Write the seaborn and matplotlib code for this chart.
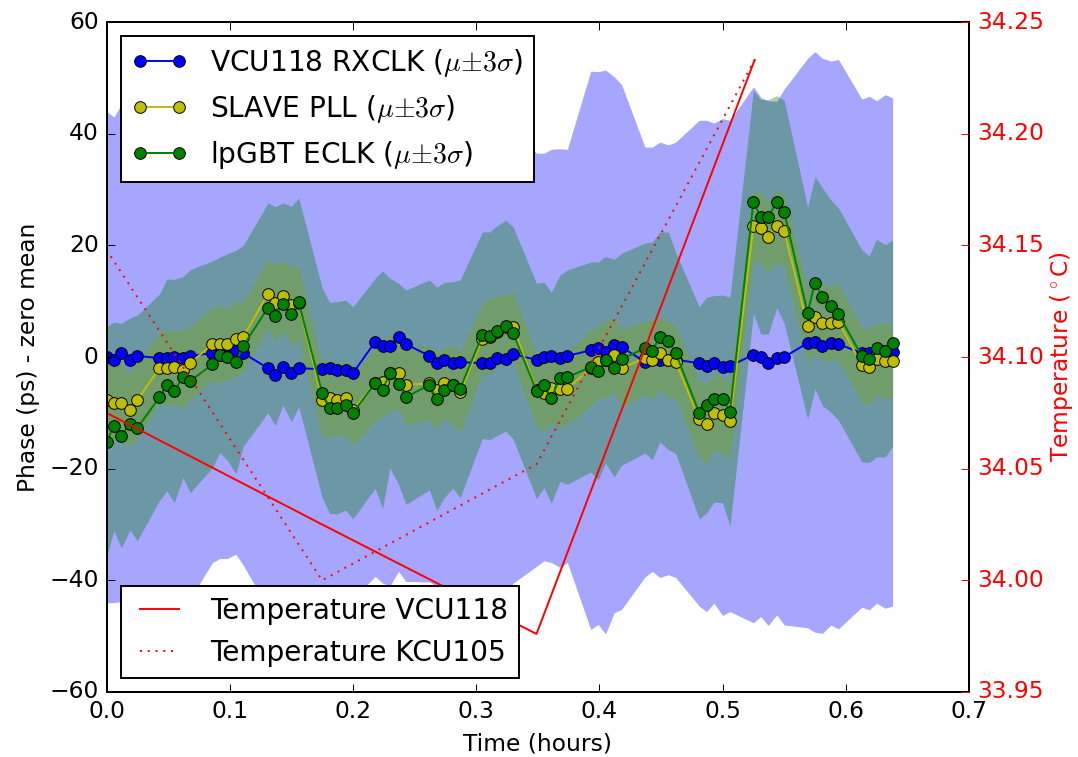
import matplotlib
matplotlib.use("Agg")
import matplotlib.pyplot as plt
from matplotlib.ticker import FormatStrFormatter, MultipleLocator
import numpy as np
import seaborn as sns

# ---------------- data ----------------
times = [
    0.000, 0.006, 0.012, 0.019, 0.025,
    0.043, 0.049, 0.055, 0.062, 0.068,
    0.086, 0.092, 0.098, 0.105, 0.111,
    0.131, 0.137, 0.143, 0.150, 0.156,
    0.175, 0.181, 0.187, 0.194, 0.200,
    0.218, 0.224, 0.230, 0.237, 0.243,
    0.262, 0.268, 0.274, 0.281, 0.287,
    0.305, 0.311, 0.317, 0.324, 0.330,
    0.349, 0.355, 0.361, 0.368, 0.374,
    0.393, 0.399, 0.405, 0.412, 0.418,
    0.437, 0.443, 0.449, 0.456, 0.462,
    0.481, 0.487, 0.493, 0.500, 0.506,
    0.525, 0.531, 0.537, 0.544, 0.550,
    0.569, 0.575, 0.581, 0.588, 0.594,
    0.613, 0.619, 0.625, 0.632, 0.638,
]

vcu_rxclk = [
    0.0, -0.5, 0.7, -0.5, 0.2,
    -0.2, -0.2, 0.0, -0.2, 0.2,
    0.7, 0.4, 0.9, 1.2, 0.7,
    -2.0, -3.2, -1.8, -2.9, -2.0,
    -2.2, -2.0, -2.3, -2.3, -2.9,
    2.7, 2.0, 2.0, 3.6, 2.3,
    0.2, -1.1, -0.5, -1.1, -0.9,
    -1.1, -1.0, -0.2, -0.4, 0.5,
    -0.5, 0.0, 0.2, -0.2, 0.2,
    1.2, 1.6, 0.9, 2.2, 1.8,
    -0.9, -0.4, -0.5, -0.5, -0.5,
    -1.1, -1.6, -1.1, -1.8, -1.6,
    0.4, 0.0, -1.1, -0.2, 0.0,
    2.5, 2.7, 2.0, 2.5, 2.3,
    0.7, 0.7, 0.9, 1.0, 0.9,
]
vcu_rxclk_3sigma = [
    44.0, 43.5, 44.5, 43.5, 44.0,
    43.5, 44.0, 43.0, 44.0, 43.5,
    37.5, 36.5, 37.0, 36.5, 38.0,
    43.0, 44.0, 43.5, 44.0, 43.0,
    40.0, 39.5, 39.5, 40.0, 40.5,
    42.0, 42.5, 43.0, 42.0, 42.5,
    40.5, 40.0, 41.0, 41.5, 42.0,
    42.0, 41.5, 41.0, 42.0, 41.0,
    37.0, 36.5, 37.0, 37.5, 37.0,
    50.0, 49.5, 50.5, 48.0, 47.0,
    38.5, 38.0, 39.0, 38.5, 39.0,
    43.5, 44.0, 43.0, 44.5, 44.0,
    48.0, 46.5, 47.0, 46.0, 48.0,
    51.0, 52.0, 51.5, 50.5, 51.0,
    45.5, 46.0, 45.0, 46.0, 45.5,
]

slave_pll = [
    -7.7, -8.2, -8.2, -9.5, -7.7,
    -2.0, -2.0, -1.8, -2.3, -1.1,
    2.3, 2.3, 2.3, 3.2, 3.6,
    11.3, 9.7, 10.9, 9.3, 9.7,
    -7.7, -7.3, -7.7, -7.3, -9.5,
    -4.7, -4.5, -2.9, -2.9, -5.0,
    -4.7, -5.9, -4.7, -5.0, -6.3,
    3.2, 3.6, 4.5, 5.4, 5.4,
    -5.9, -6.4, -5.6, -5.7, -5.7,
    -2.0, -0.9, -0.5, 0.4, -2.0,
    -0.2, -0.5, 0.7, -0.5, -0.9,
    -11.1, -12.0, -10.0, -10.4, -11.5,
    23.5, 23.1, 21.5, 23.5, 22.6,
    5.6, 7.2, 6.1, 6.1, 6.3,
    -1.4, -1.8, -0.4, -0.7, -0.7,
]
slave_pll_3sigma = [
    6.8, 6.5, 7.0, 6.4, 6.9,
    6.3, 6.8, 6.5, 7.1, 6.6,
    6.5, 7.0, 6.4, 6.8, 6.2,
    6.1, 6.8, 6.3, 7.0, 6.5,
    6.5, 6.9, 6.4, 6.8, 6.3,
    6.7, 6.2, 6.9, 6.5, 7.2,
    6.6, 7.0, 6.4, 6.9, 7.3,
    6.2, 6.7, 6.4, 5.8, 6.3,
    6.5, 6.9, 6.3, 6.7, 6.4,
    6.8, 6.4, 7.0, 6.5, 6.9,
    6.6, 7.1, 6.5, 6.9, 6.4,
    6.9, 7.2, 6.6, 7.0, 6.8,
    6.0, 6.5, 6.2, 6.6, 6.3,
    6.7, 6.3, 6.9, 6.5, 7.0,
    6.6, 6.9, 6.4, 6.8, 6.5,
]

lpgbt_eclk = [
    -15.2, -12.4, -14.1, -12.0, -12.7,
    -7.2, -5.0, -6.1, -3.6, -4.3,
    -1.3, 0.4, 0.0, -0.9, 2.0,
    8.8, 7.3, 9.5, 7.7, 9.8,
    -6.4, -9.1, -9.1, -8.6, -10.0,
    -4.7, -5.9, -2.9, -4.8, -7.2,
    -5.0, -7.5, -5.9, -5.0, -5.7,
    3.9, 3.8, 4.7, 5.6, 4.3,
    -6.1, -5.0, -7.3, -3.8, -3.6,
    -1.8, -2.5, -0.5, -2.0, -0.4,
    1.6, 1.1, 3.6, 2.9, 0.7,
    -10.0, -8.6, -7.5, -7.5, -9.8,
    27.8, 25.1, 25.1, 27.8, 26.0,
    7.9, 13.3, 10.8, 9.1, 7.7,
    0.2, -0.4, 1.6, 1.1, 2.5,
]
lpgbt_eclk_3sigma = [
    20.6, 18.7, 20.1, 19.0, 20.2,
    18.5, 19.0, 20.0, 18.0, 20.0,
    18.5, 17.5, 18.5, 20.0, 18.0,
    18.8, 19.6, 18.1, 19.3, 18.7,
    18.8, 18.9, 19.0, 18.8, 19.0,
    18.8, 21.3, 17.0, 18.0, 19.2,
    18.8, 20.0, 19.3, 18.5, 19.5,
    18.5, 18.6, 18.8, 18.9, 19.0,
    19.3, 18.4, 18.9, 18.5, 19.2,
    18.8, 19.5, 18.5, 19.5, 19.0,
    18.8, 19.5, 18.8, 19.5, 18.0,
    19.0, 19.3, 18.5, 18.6, 20.5,
    20.0, 21.0, 21.0, 19.0, 20.0,
    19.0, 19.0, 19.5, 19.0, 19.0,
    19.0, 18.5, 19.5, 19.0, 18.5,
]

temp_times = [0.0, 0.175, 0.349, 0.526]
temp_vcu118 = [34.075, 34.025, 33.976, 34.233]
temp_kcu105 = [34.148, 34.000, 34.052, 34.233]

series = [
    ("VCU118 RXCLK ($\\mu{\\pm}3\\sigma$)", vcu_rxclk, vcu_rxclk_3sigma, "b"),
    ("SLAVE PLL ($\\mu{\\pm}3\\sigma$)", slave_pll, slave_pll_3sigma, "y"),
    ("lpGBT ECLK ($\\mu{\\pm}3\\sigma$)", lpgbt_eclk, lpgbt_eclk_3sigma, "g"),
]

# ---------------- plot ----------------
plt.style.use("classic")
DPI = 140
fig = plt.figure(figsize=(1078 / DPI, 757 / DPI), dpi=DPI, facecolor="white")
ax = fig.add_subplot(111)
fig.subplots_adjust(left=0.0988, right=0.8989, bottom=0.0859, top=0.9709)

t = np.array(times)
for label, mu, sig, col in series:
    mu = np.array(mu)
    sig = np.array(sig)
    ax.fill_between(t, mu - sig, mu + sig, color=col, alpha=0.35, linewidth=0)

for label, mu, sig, col in series:
    sns.lineplot(x=t, y=np.array(mu), ax=ax, color=col, marker="o",
                 markersize=6, markeredgecolor="k", markeredgewidth=0.5,
                 linewidth=1.0, label=label, errorbar=None, sort=False)

ax.set_xlim(0, 0.7)
ax.set_ylim(-60, 60)
ax.xaxis.set_major_locator(MultipleLocator(0.1))
ax.yaxis.set_major_locator(MultipleLocator(20))
ax.xaxis.set_major_formatter(FormatStrFormatter("%.1f"))
ax.set_xlabel("Time (hours)")
ax.set_ylabel("Phase (ps) - zero mean")
ax.legend(loc="upper left", numpoints=2)

ax2 = ax.twinx()
sns.lineplot(x=temp_times, y=temp_vcu118, ax=ax2, color="r", linewidth=1.0,
             label="Temperature VCU118", errorbar=None, sort=False)
sns.lineplot(x=temp_times, y=temp_kcu105, ax=ax2, color="r", linewidth=1.0,
             linestyle=":", label="Temperature KCU105", errorbar=None, sort=False)
ax2.set_xlim(0, 0.7)
ax2.set_ylim(33.95, 34.25)
ax2.yaxis.set_major_locator(MultipleLocator(0.05))
ax2.yaxis.set_major_formatter(FormatStrFormatter("%.2f"))
ax2.tick_params(axis="y", colors="r")
ax2.set_ylabel("Temperature ($^\\circ$C)", color="r", labelpad=2)
ax2.legend(loc="lower left", numpoints=2)

fig.savefig("out.png", dpi=DPI, facecolor="white")
